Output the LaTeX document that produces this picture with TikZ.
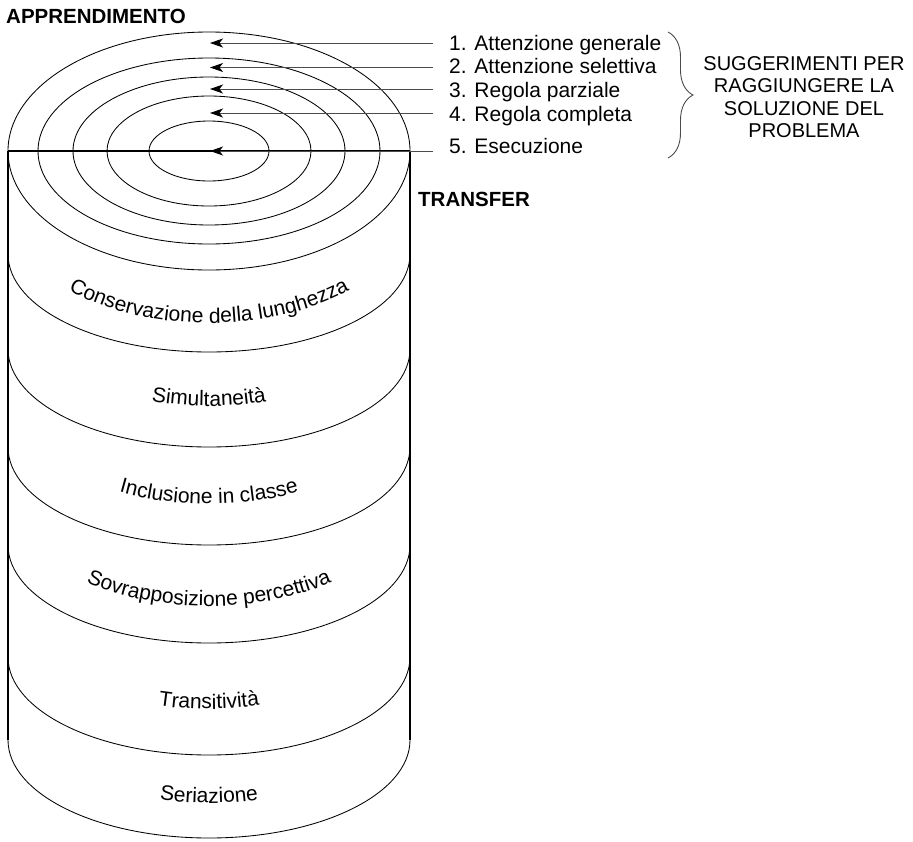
\documentclass[tikz,border=0pt]{standalone}
\usepackage{fontspec}
\setmainfont{Liberation Sans}
\usetikzlibrary{arrows.meta,decorations.text,decorations.pathreplacing}

\begin{document}
\begin{tikzpicture}[x=1pt,y=1pt,
  thinline/.style={line width=0.85pt},
  sideline/.style={line width=1.3pt},
  lbl/.style={font=\fontsize{21}{25}\selectfont, anchor=base west, inner sep=0pt},
  boldlbl/.style={font=\fontsize{20.5}{24}\selectfont\bfseries, anchor=base west, inner sep=0pt},
  pointer/.style={line width=0.9pt, draw=black!70, -{Stealth[length=13pt,width=9pt,inset=3.5pt,black]}},
]
\useasboundingbox (0,0) rectangle (913,-841);

% top: concentric ellipses
\draw[thinline] (209,-151) ellipse [x radius=201, y radius=119];
\draw[thinline] (209,-151) ellipse [x radius=171, y radius=93];
\draw[thinline] (209,-151) ellipse [x radius=136, y radius=74];
\draw[thinline] (209,-151) ellipse [x radius=102, y radius=55];
\draw[thinline] (209,-151) ellipse [x radius=60, y radius=30];

% cylinder sides
\coordinate (tl) at (8,-151);
\coordinate (tr) at (410,-151);
\coordinate (bl) at (8,-740);
\coordinate (br) at (410,-740);
\draw[sideline] (tl) -- (bl);
\draw[sideline] (tr) -- (br);

% band arcs
\foreach \s in {254,349,447,545,657,740}
  \draw[thinline] (8,-\s) arc[start angle=180, end angle=360, x radius=201, y radius=98];

% cylinder labels along arcs
\foreach \b/\t in {323/{Conservazione della lunghezza},406/{Simultaneità},504/{Inclusione in classe},606/{Sovrapposizione percettiva},709/{Transitività},803/{Seriazione}}
  \path[decorate, decoration={text along path, text align=center,
      text={|\fontsize{21}{25}\selectfont|\t}}]
    ([shift={(209,{-\b+115})}]190:201 and 115)
    arc[start angle=190, end angle=350, x radius=201, y radius=115];

% thick dividing line
\draw[line width=1.7pt] (tl) -- (tr);

% pointers
\coordinate (s1) at (433,-43);   \coordinate (t1) at (210,-43);
\coordinate (s2) at (433,-67.5); \coordinate (t2) at (210,-67.5);
\coordinate (s3) at (433,-89);   \coordinate (t3) at (210,-89);
\coordinate (s4) at (433,-113);  \coordinate (t4) at (210,-113);
\coordinate (s5) at (433,-151);  \coordinate (t5) at (210,-151);
\foreach \i in {1,...,5} \draw[pointer] (s\i) -- (t\i);

\node[lbl] (l1) at (449,-50)  {1. Attenzione generale};
\node[lbl] (l2) at (449,-73)  {2. Attenzione selettiva};
\node[lbl] (l3) at (449,-97)  {3. Regola parziale};
\node[lbl] (l4) at (449,-121) {4. Regola completa};
\node[lbl] (l5) at (449,-153) {5. Esecuzione};

% brace
\coordinate (b1) at (668,-32);
\coordinate (b2) at (668,-158);
\draw[decorate, decoration={brace, amplitude=25pt}, line width=0.9pt, black!70] (b1) -- (b2);

\node[align=center, font=\fontsize{20}{22.5}\selectfont, inner sep=0pt] (sugg) at (804,-97)
  {SUGGERIMENTI PER\\RAGGIUNGERE LA\\SOLUZIONE DEL\\PROBLEMA};

\node[boldlbl] (app) at (6,-23) {APPRENDIMENTO};
\node[boldlbl] (trf) at (418,-206) {TRANSFER};
\end{tikzpicture}
\end{document}
